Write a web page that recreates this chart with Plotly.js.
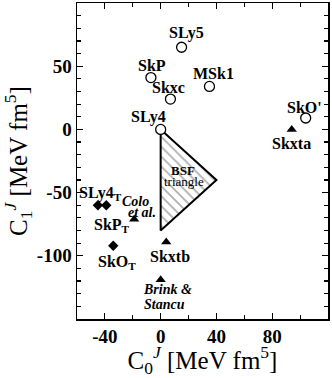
<!DOCTYPE html>
<html>
<head>
<meta charset="utf-8">
<script src="https://cdn.plot.ly/plotly-3.0.1.min.js"></script>
<style>
html, body { margin: 0; padding: 0; background: #fff; }
#chart { width: 332px; height: 378px; }
</style>
</head>
<body>
<div id="chart"></div>
<script>
// open circles: standard Skyrme sets
var circ_name = ['SLy5', 'SkP', 'MSk1', 'Skxc', 'SLy4', "SkO'"];
var circ_x = [15, -7, 35, 7, 0, 104];
var circ_y = [65, 41, 34, 24, 0, 9];

// filled triangles
var tri_name = ['Skxta', '<i>Colo</i><br><i>et al.</i>', 'Skxtb', '<i>Brink &amp;</i><br><i>Stancu</i>'];
var tri_x = [94, -19, 4, 0];
var tri_y = [0, -71, -89, -119];

// filled diamonds: tensor fits
var dia_name = ['SLy4<sub>T</sub>', 'SkP<sub>T</sub>', 'SkO<sub>T</sub>'];
var dia_x = [-45, -39, -34];
var dia_y = [-60, -60, -92];

// BSF triangle corners
var bsf_x = [0, 40, 0, 0];
var bsf_y = [0, -40, -80, 0];

// label offsets in pixels, one [dx, dy] per text line (style only)
var circ_shift = [[[5, 14]], [[1, 12]], [[4, 13]], [[-2, 12]], [[-12, 12]], [[-1, 11]]];
var tri_shift = [[[0, -14]], [[1, 18], [8, 7]], [[4, -15]], [[7, -10], [4, -25]]];
var dia_shift = [[[3, 12]], [[6, -20]], [[4, -17]]];

var serif = 'Liberation Serif';
var font_lbl = {family: serif, size: 16, color: '#000', weight: 'bold'};
var font_ital = {family: serif, size: 14, color: '#000', weight: 'bold'};

function make_labels(names, xs, ys, shifts){
	var out = [];
	for (var i in names){
		var lines = names[i].split('<br>');
		for (var j in lines){
			out.push({
				x: xs[i], y: ys[i], xref: 'x', yref: 'y',
				text: lines[j],
				showarrow: false,
				xshift: shifts[i][j][0], yshift: shifts[i][j][1],
				font: lines[j].indexOf('<i>') === 0 ? font_ital : font_lbl
			});
		}
	}
	return out;
}

var data = [
	{
		x: bsf_x, y: bsf_y, type: 'scatter', mode: 'lines',
		fill: 'toself', fillcolor: 'rgba(255,255,255,0)',
		fillpattern: {shape: '\\', fgcolor: '#b0b0b0', bgcolor: '#fff', size: 7, solidity: 0.25},
		line: {color: '#000', width: 2},
		hoverinfo: 'skip'
	},
	{
		x: circ_x, y: circ_y, type: 'scatter', mode: 'markers',
		marker: {symbol: 'circle', size: 10, color: '#fff', line: {color: '#000', width: 1.3}}
	},
	{
		x: tri_x, y: tri_y, type: 'scatter', mode: 'markers',
		marker: {symbol: 'triangle-up', size: 9, color: '#000'}
	},
	{
		x: dia_x, y: dia_y, type: 'scatter', mode: 'markers',
		marker: {symbol: 'diamond', size: 8, color: '#000'}
	}
];

var annotations = [].concat(
	make_labels(circ_name, circ_x, circ_y, circ_shift),
	make_labels(tri_name, tri_x, tri_y, tri_shift),
	make_labels(dia_name, dia_x, dia_y, dia_shift)
);
// label inside the BSF triangle, at its centroid
var bsf_cx = (bsf_x[0] + bsf_x[1] + bsf_x[2]) / 3;
var bsf_cy = (bsf_y[0] + bsf_y[1] + bsf_y[2]) / 3;
annotations.push({
	x: bsf_cx, y: bsf_cy, text: 'BSF', showarrow: false, xshift: 4, yshift: 9,
	font: {family: serif, size: 13, color: '#000', weight: 'bold'}
});
annotations.push({
	x: bsf_cx, y: bsf_cy, text: 'triangle', showarrow: false, xshift: 5, yshift: -2,
	font: {family: serif, size: 13, color: '#000'}
});

var tickfont = {family: serif, size: 19, color: '#000', weight: 'bold'};
var titlefont = {family: serif, size: 25, color: '#000'};

var layout = {
	width: 332, height: 378,
	margin: {l: 77, r: 4, t: 3, b: 59},
	paper_bgcolor: '#fff', plot_bgcolor: '#fff',
	showlegend: false,
	xaxis: {
		range: [-60, 120], tick0: 0, dtick: 40,
		ticks: 'inside', ticklen: 6, tickwidth: 1.2, tickcolor: '#000',
		minor: {dtick: 20, tick0: 0, ticks: 'inside', ticklen: 4, tickcolor: '#000'},
		showline: true, linecolor: '#000', linewidth: 1.5, mirror: 'ticks',
		showgrid: false, zeroline: false,
		tickfont: tickfont,
		tickvals: [-40, 0, 40, 80], ticktext: ['-40', '0', '40', '80'],
		title: {text: 'C<sub>0</sub><sup><i>J</i></sup> [MeV fm<sup>5</sup>]', font: titlefont, standoff: 2}
	},
	yaxis: {
		range: [-150, 100], tick0: 0, dtick: 50,
		ticks: 'inside', ticklen: 6, tickwidth: 1.2, tickcolor: '#000',
		minor: {dtick: 10, tick0: 0, ticks: 'inside', ticklen: 4, tickcolor: '#000'},
		showline: true, linecolor: '#000', linewidth: 1.5, mirror: 'ticks',
		showgrid: false, zeroline: false,
		tickfont: tickfont,
		tickvals: [-100, -50, 0, 50], ticktext: ['-100', '-50', '0', '50'],
		title: {text: 'C<sub>1</sub><sup><i>J</i></sup> [MeV fm<sup>5</sup>]', font: titlefont, standoff: 6}
	},
	annotations: annotations
};

Plotly.newPlot('chart', data, layout, {displayModeBar: false, staticPlot: true});
</script>
</body>
</html>
